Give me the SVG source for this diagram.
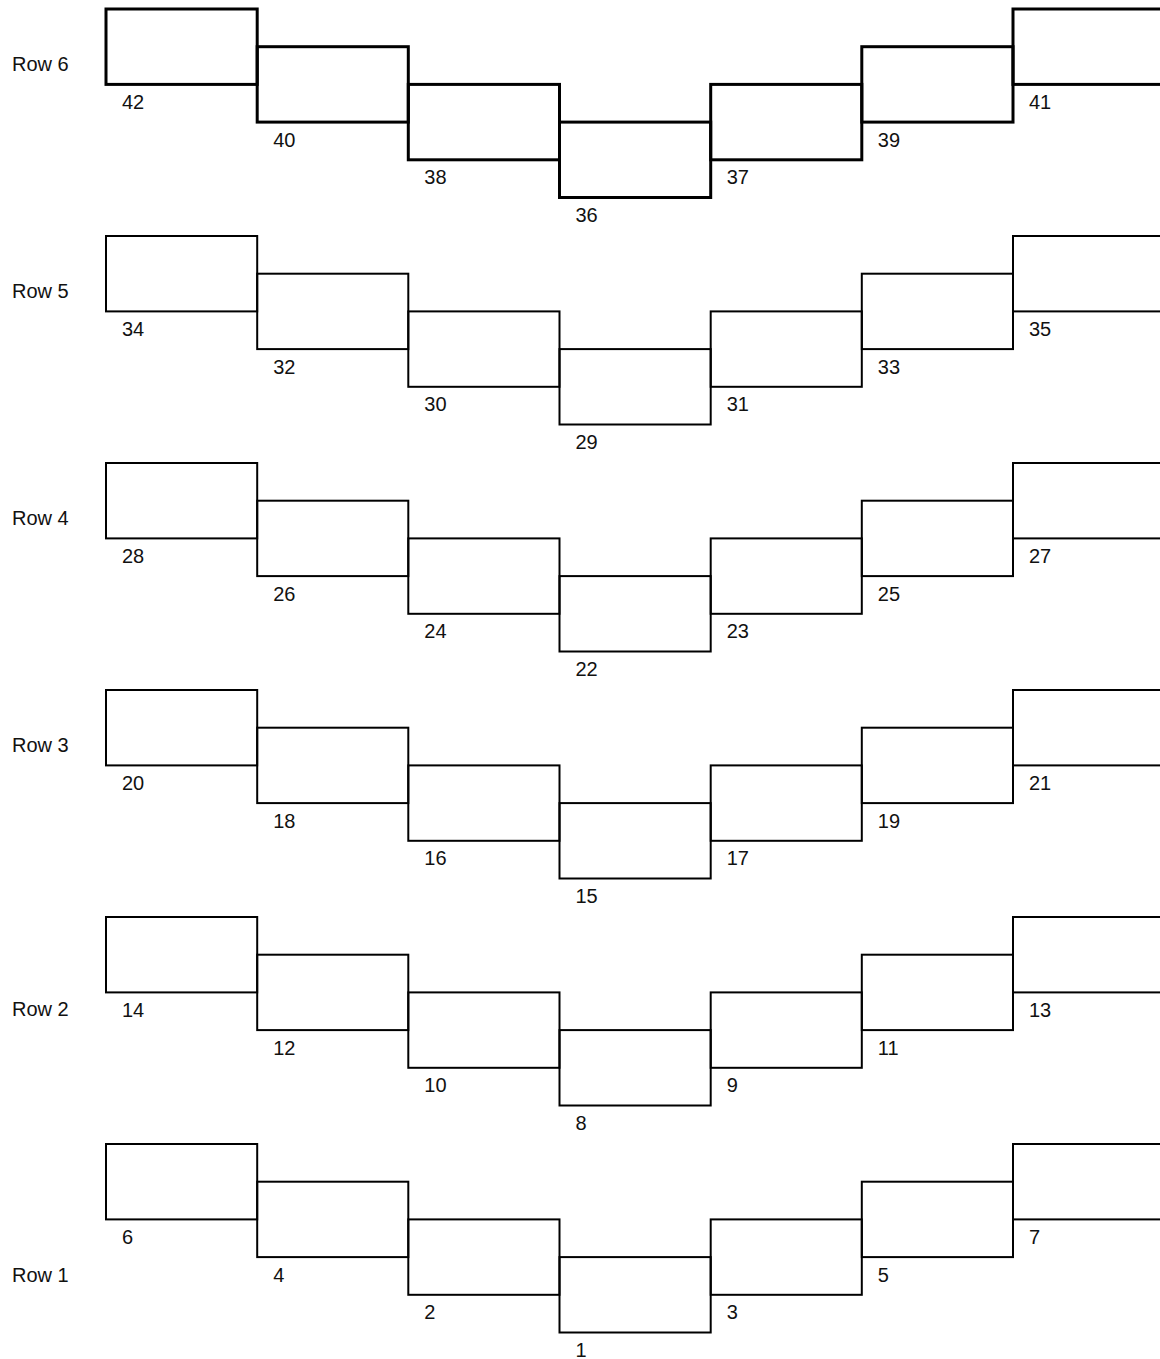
<svg xmlns="http://www.w3.org/2000/svg" width="1160" height="1359" viewBox="0 0 1160 1359">
<style>
.b{fill:none;stroke:#000;stroke-width:2}
.r6 .b{stroke-width:3}
.t{font-family:"Liberation Sans",Arial,sans-serif;font-size:20px;fill:#111}
</style>
<rect x="0" y="0" width="1160" height="1359" fill="#fff"/>
<g id="row6" class="r6" transform="translate(0,9)">
<text class="t" x="12" y="62">Row 6</text>
<g id="n42"><rect class="b" x="106" y="0" width="151.2" height="75.4"/><text class="t" x="122" y="99.9">42</text></g>
<g id="n40"><rect class="b" x="257.2" y="37.7" width="151.1" height="75.4"/><text class="t" x="273.2" y="137.6">40</text></g>
<g id="n38"><rect class="b" x="408.3" y="75.4" width="151.2" height="75.4"/><text class="t" x="424.3" y="175.3">38</text></g>
<g id="n36"><rect class="b" x="559.5" y="113.1" width="151.2" height="75.4"/><text class="t" x="575.5" y="213">36</text></g>
<g id="n37"><rect class="b" x="710.7" y="75.4" width="151.1" height="75.4"/><text class="t" x="726.7" y="175.3">37</text></g>
<g id="n39"><rect class="b" x="861.8" y="37.7" width="151.2" height="75.4"/><text class="t" x="877.8" y="137.6">39</text></g>
<g id="n41"><rect class="b" x="1013" y="0" width="151.2" height="75.4"/><text class="t" x="1029" y="99.9">41</text></g>
</g>
<g id="row5" transform="translate(0,236)">
<text class="t" x="12" y="62">Row 5</text>
<g id="n34"><rect class="b" x="106" y="0" width="151.2" height="75.4"/><text class="t" x="122" y="99.9">34</text></g>
<g id="n32"><rect class="b" x="257.2" y="37.7" width="151.1" height="75.4"/><text class="t" x="273.2" y="137.6">32</text></g>
<g id="n30"><rect class="b" x="408.3" y="75.4" width="151.2" height="75.4"/><text class="t" x="424.3" y="175.3">30</text></g>
<g id="n29"><rect class="b" x="559.5" y="113.1" width="151.2" height="75.4"/><text class="t" x="575.5" y="213">29</text></g>
<g id="n31"><rect class="b" x="710.7" y="75.4" width="151.1" height="75.4"/><text class="t" x="726.7" y="175.3">31</text></g>
<g id="n33"><rect class="b" x="861.8" y="37.7" width="151.2" height="75.4"/><text class="t" x="877.8" y="137.6">33</text></g>
<g id="n35"><rect class="b" x="1013" y="0" width="151.2" height="75.4"/><text class="t" x="1029" y="99.9">35</text></g>
</g>
<g id="row4" transform="translate(0,463)">
<text class="t" x="12" y="62">Row 4</text>
<g id="n28"><rect class="b" x="106" y="0" width="151.2" height="75.4"/><text class="t" x="122" y="99.9">28</text></g>
<g id="n26"><rect class="b" x="257.2" y="37.7" width="151.1" height="75.4"/><text class="t" x="273.2" y="137.6">26</text></g>
<g id="n24"><rect class="b" x="408.3" y="75.4" width="151.2" height="75.4"/><text class="t" x="424.3" y="175.3">24</text></g>
<g id="n22"><rect class="b" x="559.5" y="113.1" width="151.2" height="75.4"/><text class="t" x="575.5" y="213">22</text></g>
<g id="n23"><rect class="b" x="710.7" y="75.4" width="151.1" height="75.4"/><text class="t" x="726.7" y="175.3">23</text></g>
<g id="n25"><rect class="b" x="861.8" y="37.7" width="151.2" height="75.4"/><text class="t" x="877.8" y="137.6">25</text></g>
<g id="n27"><rect class="b" x="1013" y="0" width="151.2" height="75.4"/><text class="t" x="1029" y="99.9">27</text></g>
</g>
<g id="row3" transform="translate(0,690)">
<text class="t" x="12" y="62">Row 3</text>
<g id="n20"><rect class="b" x="106" y="0" width="151.2" height="75.4"/><text class="t" x="122" y="99.9">20</text></g>
<g id="n18"><rect class="b" x="257.2" y="37.7" width="151.1" height="75.4"/><text class="t" x="273.2" y="137.6">18</text></g>
<g id="n16"><rect class="b" x="408.3" y="75.4" width="151.2" height="75.4"/><text class="t" x="424.3" y="175.3">16</text></g>
<g id="n15"><rect class="b" x="559.5" y="113.1" width="151.2" height="75.4"/><text class="t" x="575.5" y="213">15</text></g>
<g id="n17"><rect class="b" x="710.7" y="75.4" width="151.1" height="75.4"/><text class="t" x="726.7" y="175.3">17</text></g>
<g id="n19"><rect class="b" x="861.8" y="37.7" width="151.2" height="75.4"/><text class="t" x="877.8" y="137.6">19</text></g>
<g id="n21"><rect class="b" x="1013" y="0" width="151.2" height="75.4"/><text class="t" x="1029" y="99.9">21</text></g>
</g>
<g id="row2" transform="translate(0,917)">
<text class="t" x="12" y="98.5">Row 2</text>
<g id="n14"><rect class="b" x="106" y="0" width="151.2" height="75.4"/><text class="t" x="122" y="99.9">14</text></g>
<g id="n12"><rect class="b" x="257.2" y="37.7" width="151.1" height="75.4"/><text class="t" x="273.2" y="137.6">12</text></g>
<g id="n10"><rect class="b" x="408.3" y="75.4" width="151.2" height="75.4"/><text class="t" x="424.3" y="175.3">10</text></g>
<g id="n8"><rect class="b" x="559.5" y="113.1" width="151.2" height="75.4"/><text class="t" x="575.5" y="213">8</text></g>
<g id="n9"><rect class="b" x="710.7" y="75.4" width="151.1" height="75.4"/><text class="t" x="726.7" y="175.3">9</text></g>
<g id="n11"><rect class="b" x="861.8" y="37.7" width="151.2" height="75.4"/><text class="t" x="877.8" y="137.6">11</text></g>
<g id="n13"><rect class="b" x="1013" y="0" width="151.2" height="75.4"/><text class="t" x="1029" y="99.9">13</text></g>
</g>
<g id="row1" transform="translate(0,1144)">
<text class="t" x="12" y="138">Row 1</text>
<g id="n6"><rect class="b" x="106" y="0" width="151.2" height="75.4"/><text class="t" x="122" y="99.9">6</text></g>
<g id="n4"><rect class="b" x="257.2" y="37.7" width="151.1" height="75.4"/><text class="t" x="273.2" y="137.6">4</text></g>
<g id="n2"><rect class="b" x="408.3" y="75.4" width="151.2" height="75.4"/><text class="t" x="424.3" y="175.3">2</text></g>
<g id="n1"><rect class="b" x="559.5" y="113.1" width="151.2" height="75.4"/><text class="t" x="575.5" y="213">1</text></g>
<g id="n3"><rect class="b" x="710.7" y="75.4" width="151.1" height="75.4"/><text class="t" x="726.7" y="175.3">3</text></g>
<g id="n5"><rect class="b" x="861.8" y="37.7" width="151.2" height="75.4"/><text class="t" x="877.8" y="137.6">5</text></g>
<g id="n7"><rect class="b" x="1013" y="0" width="151.2" height="75.4"/><text class="t" x="1029" y="99.9">7</text></g>
</g>
</svg>
